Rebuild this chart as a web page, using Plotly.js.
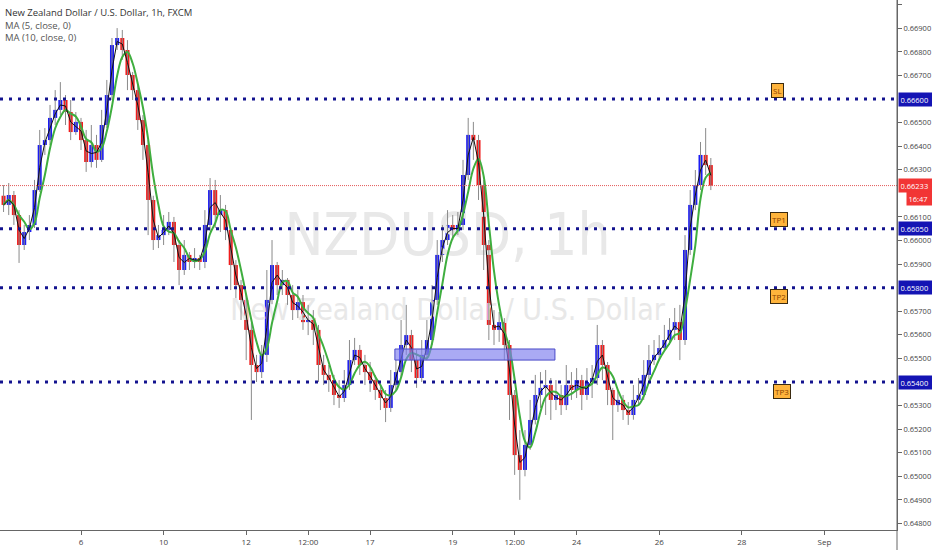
<!DOCTYPE html>
<html><head><meta charset="utf-8">
<script src="https://cdn.plot.ly/plotly-3.0.1.min.js"></script>
<style>html,body{margin:0;padding:0;background:#fff}#chart{width:932px;height:550px}</style>
</head><body><div id="chart"></div>
<script>
// NZDUSD bars (3-hour resolution)
const open = [
0.66190,0.66151,0.66193,0.66108,0.65981,0.66036,0.66066,0.66214,0.66405,0.66426,
0.66520,0.66554,0.66596,0.66545,0.66460,0.66503,0.66426,0.66333,0.66405,0.66342,
0.66490,0.66617,0.66829,0.66859,0.66808,0.66702,0.66638,0.66511,0.66405,0.66172,
0.66002,0.66023,0.66045,0.66079,0.65981,0.65875,0.65939,0.65909,0.65926,0.65909,
0.66066,0.66214,0.66108,0.66129,0.66045,0.65896,0.65811,0.65748,0.65621,0.65472,
0.65442,0.65515,0.65748,0.65896,0.65811,0.65833,0.65769,0.65705,0.65739,0.65654,
0.65671,0.65621,0.65472,0.65430,0.65408,0.65345,0.65332,0.65387,0.65493,0.65536,
0.65472,0.65442,0.65408,0.65366,0.65332,0.65290,0.65387,0.65442,0.65557,0.65599,
0.65493,0.65417,0.65515,0.65578,0.65748,0.65939,0.66002,0.66066,0.66036,0.66066,
0.66278,0.66448,0.66426,0.66235,0.65981,0.65642,0.65621,0.65654,0.65557,0.65345,
0.65090,0.65027,0.65133,0.65239,0.65345,0.65375,0.65387,0.65324,0.65345,0.65302,
0.65387,0.65366,0.65408,0.65345,0.65400,0.65417,0.65557,0.65472,0.65366,0.65302,
0.65324,0.65281,0.65260,0.65324,0.65345,0.65430,0.65493,0.65515,0.65544,0.65578,
0.65621,0.65654,0.65578,0.65960,0.66151,0.66235,0.66363,0.66320];
const high = [
0.66235,0.66244,0.66210,0.66129,0.66066,0.66108,0.66257,0.66469,0.66477,0.66575,
0.66638,0.66672,0.66617,0.66596,0.66545,0.66520,0.66469,0.66490,0.66448,0.66554,
0.66681,0.66859,0.66901,0.66893,0.66850,0.66715,0.66660,0.66532,0.66426,0.66190,
0.66066,0.66108,0.66121,0.66100,0.66002,0.66002,0.65951,0.65968,0.65939,0.66129,
0.66265,0.66257,0.66193,0.66151,0.66053,0.65917,0.65833,0.65769,0.65650,0.65515,
0.65557,0.65875,0.66002,0.65909,0.65875,0.65841,0.65811,0.65790,0.65769,0.65727,
0.65705,0.65642,0.65515,0.65472,0.65430,0.65408,0.65451,0.65578,0.65587,0.65557,
0.65515,0.65485,0.65430,0.65387,0.65366,0.65451,0.65493,0.65663,0.65727,0.65621,
0.65536,0.65578,0.65663,0.65811,0.66002,0.66066,0.66129,0.66108,0.66121,0.66342,
0.66520,0.66503,0.66448,0.66257,0.66002,0.65705,0.65697,0.65671,0.65578,0.65366,
0.65196,0.65196,0.65324,0.65430,0.65442,0.65451,0.65417,0.65408,0.65387,0.65472,
0.65442,0.65459,0.65430,0.65459,0.65472,0.65642,0.65578,0.65485,0.65375,0.65366,
0.65345,0.65315,0.65387,0.65417,0.65493,0.65557,0.65578,0.65599,0.65642,0.65671,
0.65714,0.65727,0.66023,0.66214,0.66299,0.66418,0.66477,0.66350];
const low = [
0.66121,0.66108,0.66066,0.65905,0.65960,0.66002,0.66053,0.66206,0.66363,0.66405,
0.66490,0.66532,0.66490,0.66426,0.66448,0.66384,0.66291,0.66310,0.66308,0.66333,
0.66477,0.66596,0.66808,0.66766,0.66638,0.66596,0.66469,0.66342,0.66023,0.65960,
0.65968,0.65981,0.66023,0.65909,0.65811,0.65854,0.65875,0.65883,0.65875,0.65883,
0.66040,0.66053,0.66036,0.66002,0.65790,0.65756,0.65663,0.65493,0.65239,0.65400,
0.65417,0.65485,0.65730,0.65769,0.65769,0.65727,0.65663,0.65671,0.65621,0.65599,
0.65557,0.65400,0.65387,0.65358,0.65302,0.65290,0.65315,0.65366,0.65472,0.65430,
0.65387,0.65358,0.65324,0.65281,0.65230,0.65273,0.65366,0.65417,0.65515,0.65442,
0.65375,0.65400,0.65493,0.65557,0.65727,0.65909,0.65981,0.66002,0.66023,0.66045,
0.66257,0.66342,0.66172,0.65875,0.65578,0.65557,0.65570,0.65493,0.65239,0.65006,
0.64900,0.65000,0.65112,0.65220,0.65290,0.65260,0.65239,0.65281,0.65260,0.65281,
0.65324,0.65332,0.65281,0.65324,0.65332,0.65387,0.65408,0.65302,0.65154,0.65273,
0.65239,0.65218,0.65240,0.65302,0.65324,0.65410,0.65472,0.65493,0.65536,0.65557,
0.65578,0.65493,0.65557,0.65939,0.66129,0.66214,0.66278,0.66214];
const close = [
0.66151,0.66193,0.66108,0.65981,0.66036,0.66066,0.66214,0.66405,0.66426,0.66520,
0.66554,0.66596,0.66545,0.66460,0.66503,0.66426,0.66333,0.66405,0.66342,0.66490,
0.66617,0.66829,0.66859,0.66808,0.66702,0.66638,0.66511,0.66405,0.66172,0.66002,
0.66023,0.66045,0.66079,0.65981,0.65875,0.65939,0.65909,0.65926,0.65909,0.66066,
0.66214,0.66108,0.66129,0.66045,0.65896,0.65811,0.65748,0.65621,0.65472,0.65442,
0.65515,0.65748,0.65896,0.65811,0.65833,0.65769,0.65705,0.65739,0.65654,0.65671,
0.65621,0.65472,0.65430,0.65408,0.65345,0.65332,0.65387,0.65493,0.65536,0.65472,
0.65442,0.65408,0.65366,0.65332,0.65290,0.65387,0.65442,0.65557,0.65599,0.65493,
0.65417,0.65515,0.65578,0.65748,0.65939,0.66002,0.66066,0.66036,0.66066,0.66278,
0.66448,0.66426,0.66235,0.65981,0.65642,0.65621,0.65654,0.65557,0.65345,0.65090,
0.65027,0.65133,0.65239,0.65345,0.65375,0.65387,0.65324,0.65345,0.65302,0.65387,
0.65366,0.65408,0.65345,0.65400,0.65417,0.65557,0.65472,0.65366,0.65302,0.65324,
0.65281,0.65260,0.65324,0.65345,0.65430,0.65493,0.65515,0.65544,0.65578,0.65621,
0.65654,0.65578,0.65960,0.66151,0.66235,0.66363,0.66320,0.66233];

// x-axis labels (bar index where each date starts)
const tickIndex = [15, 31, 47, 59, 71, 87, 99, 111, 127, 143, 159];
const tickLabels = ['6', '10', '12', '12:00', '17', '19', '12:00', '24', '26', '28', 'Sep'];
// price-scale labels left visible (the others are hidden under the level / price tags)
const yTicks = [0.648, 0.649, 0.650, 0.651, 0.652, 0.653, 0.655, 0.656, 0.657, 0.659, 0.660,
  0.661, 0.663, 0.664, 0.665, 0.667, 0.668, 0.669, 0.670];

// horizontal trade levels
const levels = [0.66600, 0.66050, 0.65800, 0.65400];
const levelNames = ['SL', 'TP1', 'TP2', 'TP3'];
const lastPrice = 0.66233;
const countdown = '16:47';
// drawn zone (bar index from/to, price bottom/top)
const zoneBars = [75.8, 106.8];
const zonePrices = [0.65493, 0.65540];

const idx = close.map((_, i) => i);
function sma(arr, n) {
  return arr.map((_, i) => {
    const s = Math.max(0, i - n + 1); let t = 0;
    for (let k = s; k <= i; k++) t += arr[k];
    return t / (i - s + 1);
  });
}
// MA(5) and MA(10) of 1h closes ≈ 2 and 4 bars of 3h
const ma5 = sma(close, 2);
const ma10 = sma(close, 4);

const UP = '#1c1cf2', DOWN = '#f01c1c';
const wx = [], wy = [];
idx.forEach(i => { wx.push(i, i, null); wy.push(low[i], high[i], null); });
const bodyBase = idx.map(i => Math.min(open[i], close[i]));
const bodyH = idx.map(i => Math.max(Math.abs(close[i] - open[i]), 0.00003));
const bodyCol = idx.map(i => close[i] >= open[i] ? UP : DOWN);

const traces = [
  { type: 'scatter', mode: 'text', x: [86, 86], y: [0.66002, 0.65693],
    text: ['NZDUSD, 1h', 'New Zealand Dollar / U.S. Dollar'],
    textfont: { size: [58, 30], color: '#e8e8e8', family: 'Liberation Sans Narrow, DejaVu Sans Condensed, sans-serif' },
    hoverinfo: 'skip', showlegend: false, cliponaxis: false },
  { type: 'scatter', mode: 'lines', x: wx, y: wy, line: { color: '#8a8a8a', width: 1 },
    hoverinfo: 'skip', showlegend: false, connectgaps: false },
  { type: 'bar', x: idx, base: bodyBase, y: bodyH, width: 0.78,
    marker: { color: bodyCol, line: { width: 0 } }, showlegend: false, hoverinfo: 'skip' },
  { type: 'scatter', mode: 'lines', x: idx, y: ma10, line: { color: '#3fae3f', width: 2, shape: 'spline' },
    showlegend: false, hoverinfo: 'skip' },
  { type: 'scatter', mode: 'lines', x: idx, y: ma5, line: { color: '#111', width: 1 },
    showlegend: false, hoverinfo: 'skip' }
];

const LEVEL_COL = '#13138f';
const shapes = [];
const annotations = [];
const tagX = [0.8665, 0.869, 0.8685, 0.8715];
levels.forEach((lv, k) => {
  shapes.push({ type: 'line', xref: 'paper', x0: 0, x1: 1, yref: 'y', y0: lv, y1: lv,
    line: { color: LEVEL_COL, width: 3, dash: '3px,6px' } });
  annotations.push({ xref: 'paper', x: 1, xanchor: 'left', xshift: 1, yref: 'y', y: lv,
    text: lv.toFixed(5), showarrow: false, bgcolor: '#1414b4', borderpad: 1.5,
    font: { size: 7.5, color: '#ffffff' }, width: 31, align: 'left' });
  annotations.push({ xref: 'paper', x: tagX[k], xanchor: 'center', yref: 'y', y: lv, yshift: k < 2 ? 9 : -9,
    text: levelNames[k], showarrow: false, bgcolor: '#ffb43c', bordercolor: '#3a2a10',
    borderwidth: 1, borderpad: 1, font: { size: 8, color: '#8a4200' } });
});
shapes.push({ type: 'line', xref: 'paper', x0: 0, x1: 1, yref: 'y', y0: lastPrice, y1: lastPrice,
  line: { color: '#e35a5a', width: 1, dash: '1px,1px' } });
shapes.push({ type: 'rect', xref: 'x', x0: zoneBars[0], x1: zoneBars[1], yref: 'y', y0: zonePrices[0], y1: zonePrices[1],
  fillcolor: 'rgba(125,125,238,0.65)', line: { color: '#4a4ac8', width: 1 } });
shapes.push({ type: 'line', xref: 'paper', x0: 1, x1: 1, yref: 'paper', y0: -0.04, y1: 1,
  line: { color: '#666', width: 1 } });

annotations.push({ xref: 'paper', x: 1, xanchor: 'left', xshift: 1, yref: 'y', y: lastPrice,
  text: lastPrice.toFixed(5), showarrow: false, bgcolor: '#f23535', borderpad: 1.5,
  font: { size: 7.5, color: '#fff' }, width: 31, align: 'left' });
annotations.push({ xref: 'paper', x: 1, xanchor: 'left', xshift: 9, yref: 'y', y: lastPrice, yshift: -13,
  text: countdown, showarrow: false, bgcolor: '#f23535', borderpad: 1.5,
  font: { size: 7.5, color: '#fff' }, width: 23, align: 'left' });

const legendLines = ['New Zealand Dollar / U.S. Dollar, 1h, FXCM', 'MA (5, close, 0)', 'MA (10, close, 0)'];
legendLines.forEach((t, k) => {
  annotations.push({ xref: 'paper', x: 0, xanchor: 'left', xshift: 3, yref: 'paper', y: 1, yanchor: 'top',
    yshift: -4 - 12.5 * k, text: t, showarrow: false, align: 'left',
    font: { size: 9.5, color: k === 0 ? '#333' : '#555', family: 'Open Sans, sans-serif' } });
});

const layout = {
  width: 932, height: 550,
  margin: { l: 0, r: 35, t: 0, b: 20 },
  paper_bgcolor: '#fff', plot_bgcolor: '#fff',
  font: { family: 'Open Sans, sans-serif', color: '#444' },
  showlegend: false, barmode: 'overlay',
  xaxis: { range: [-0.69, 173.06], tickvals: tickIndex, ticktext: tickLabels, ticks: 'outside', ticklen: 4,
    tickcolor: '#666', showline: true, linecolor: '#666', linewidth: 1, showgrid: false, zeroline: false,
    tickfont: { size: 8, color: '#444' }, fixedrange: true },
  yaxis: { side: 'right', range: [0.647723, 0.670201], tickvals: yTicks, tickformat: '.5f',
    ticks: 'outside', ticklen: 4, tickcolor: '#666', showline: true, linecolor: '#666', showgrid: false,
    zeroline: false, tickfont: { size: 7.5, color: '#444' }, fixedrange: true },
  shapes, annotations
};
Plotly.newPlot('chart', traces, layout, { displayModeBar: false, staticPlot: true });
</script>
</body></html>
